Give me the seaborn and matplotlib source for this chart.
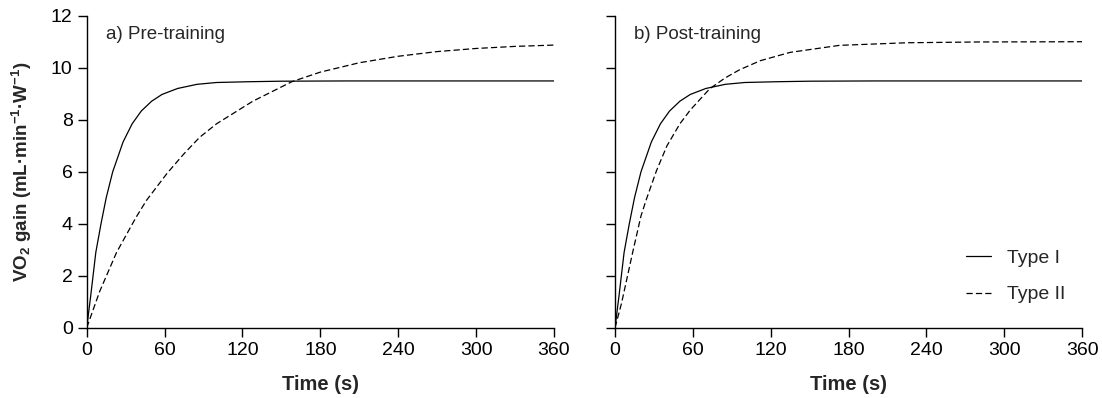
import matplotlib
matplotlib.use("Agg")
import numpy as np
import pandas as pd
import matplotlib.pyplot as plt
import seaborn as sns

# ---- data ----
t_type1 = [0, 3, 7, 11, 15, 20, 28, 35, 42, 50, 58, 70, 85, 100, 125, 150, 200, 360]
y_type1 = [0, 1.2, 2.9, 4.0, 5.0, 6.0, 7.15, 7.85, 8.34, 8.72, 8.98, 9.21, 9.37, 9.44, 9.47, 9.49, 9.5, 9.5]

t_pre_type2 = [0, 10, 23, 38, 46, 62, 75, 87, 100, 128, 158, 180, 210, 240, 270, 300, 330, 360]
y_pre_type2 = [0, 1.4, 2.9, 4.25, 4.9, 5.95, 6.7, 7.33, 7.85, 8.72, 9.47, 9.84, 10.2, 10.45, 10.63, 10.75, 10.83, 10.88]

t_post_type2 = [0, 5, 14, 20, 24, 32, 40, 50, 58, 73, 85, 96, 112, 135, 173, 225, 280, 360]
y_post_type2 = [0, 0.94, 2.99, 4.3, 4.92, 6.05, 7.0, 7.85, 8.38, 9.2, 9.62, 9.93, 10.28, 10.6, 10.87, 10.97, 11.0, 11.01]

panel_titles = ["a) Pre-training", "b) Post-training"]
series_names = ["Type I", "Type II"]
x_ticks = [0, 60, 120, 180, 240, 300, 360]
y_ticks = [0, 2, 4, 6, 8, 10, 12]


def make_df(t1, y1, t2, y2):
    return pd.concat([
        pd.DataFrame({"Time": t1, "Gain": y1, "Fibre": series_names[0]}),
        pd.DataFrame({"Time": t2, "Gain": y2, "Fibre": series_names[1]}),
    ], ignore_index=True)


df_pre = make_df(t_type1, y_type1, t_pre_type2, y_pre_type2)
df_post = make_df(t_type1, y_type1, t_post_type2, y_post_type2)

sns.set_theme(style="ticks")
plt.rcParams["font.family"] = ["Liberation Sans", "DejaVu Sans"]
plt.rcParams["mathtext.fontset"] = "custom"
plt.rcParams["mathtext.rm"] = "Liberation Sans:bold"
plt.rcParams["mathtext.it"] = "Liberation Sans:bold"
plt.rcParams["mathtext.bf"] = "Liberation Sans:bold"

fig = plt.figure(figsize=(11.02, 3.98), dpi=100)
ax1 = fig.add_axes([0.0787, 0.1766, 0.4240, 0.7832])
ax2 = fig.add_axes([0.5581, 0.1766, 0.4238, 0.7832])

dashes = {"Type I": "", "Type II": (5, 2.5)}
palette = {"Type I": "black", "Type II": "black"}

for ax, df, title, leg in [(ax1, df_pre, panel_titles[0], False),
                           (ax2, df_post, panel_titles[1], True)]:
    sns.lineplot(data=df, x="Time", y="Gain", hue="Fibre", style="Fibre",
                 dashes=dashes, palette=palette, estimator=None, sort=True,
                 linewidth=0.9, ax=ax, legend=leg)
    ax.set_xlim(0, 360)
    ax.set_ylim(0, 12)
    ax.set_xticks(x_ticks)
    ax.set_yticks(y_ticks)
    for s in ["top", "right"]:
        ax.spines[s].set_visible(False)
    for s in ["left", "bottom"]:
        ax.spines[s].set_linewidth(1.0)
        ax.spines[s].set_color("black")
    ax.tick_params(direction="out", length=6.7, width=1.0, colors="black",
                   labelsize=14, pad=3.4)
    ax.set_xlabel("Time (s)", fontsize=14.5, fontweight="bold", labelpad=12)
    ax.text(15, 11.1, title, fontsize=13.5, va="baseline", ha="left")
    ax.patch.set_alpha(0)

ax1.set_ylabel("VO$_2$ gain (mL·min$^{-1}$·W$^{-1}$)", fontsize=13.5, fontweight="bold")
ax1.yaxis.set_label_coords(-0.112, 0.5)
ax2.set_ylabel("")
ax2.set_yticklabels([])

leg = ax2.legend(loc="lower left", bbox_to_anchor=(0.713, 0.022), frameon=False,
                 fontsize=14, handlelength=1.3, handletextpad=0.82, labelspacing=0.95)
for h in leg.get_lines():
    h.set_linewidth(0.9)
    h.set_color("black")

fig.savefig("out.png", dpi=100, facecolor="white")
